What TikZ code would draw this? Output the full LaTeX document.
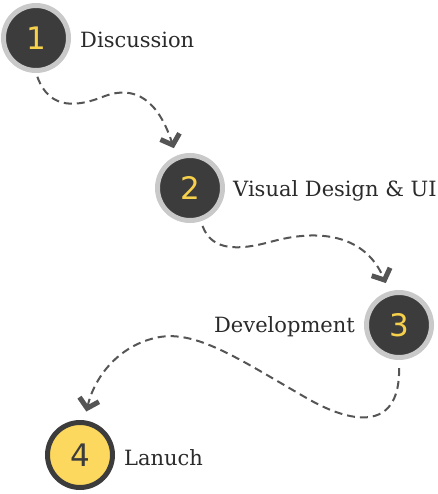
\documentclass[tikz,border=0pt]{standalone}
\usepackage{fontspec}
\setmainfont{DejaVu Serif}
\newfontfamily\numfont{DejaVu Sans}
\usetikzlibrary{arrows.meta}

\definecolor{ringgray}{HTML}{C9C9C9}
\definecolor{darkdot}{HTML}{3C3C3C}
\definecolor{numyellow}{HTML}{F7D14C}
\definecolor{lastfill}{HTML}{FCD95E}
\definecolor{dashgray}{HTML}{555555}
\definecolor{labelgray}{HTML}{2A2A2A}

\tikzset{
  stepdot/.style={circle,draw=ringgray,fill=darkdot,line width=5pt,minimum size=65pt,inner sep=0pt,
    text=numyellow,font=\numfont\fontsize{31}{31}\selectfont},
  lastdot/.style={stepdot,draw=darkdot,fill=lastfill,text=darkdot},
  steplabel/.style={text=labelgray,inner sep=0pt,font=\fontsize{21}{24}\selectfont},
  flow/.style={dashgray,line width=2pt,dash pattern=on 8pt off 5pt,
    -{Straight Barb[length=9pt,width=20pt,line width=5pt]}}
}

\begin{document}
\begin{tikzpicture}[x=1pt,y=-1pt]
    \useasboundingbox (0,0) rectangle (437,494);
    \node[stepdot] at (36,38) (s1) {1};
    \node[stepdot] at (190,188) (s2) {2};
    \node[stepdot] at (399,325) (s3) {3};
    \node[lastdot] at (80,455) (s4) {4};
    \node[steplabel,anchor=base west] at (80,48) (l1) {Discussion};
    \node[steplabel,anchor=base west] at (233,196) (l2) {Visual Design \& UI};
    \node[steplabel,anchor=base east] at (355,332) (l3) {Development};
    \node[steplabel,anchor=base west] at (124,465) (l4) {Lanuch};
    % dashed connectors between the steps
    \draw[flow,shorten <=4pt,shorten >=8pt] (s1.south) .. controls (50,112) and (80,106) .. (105,96)
        .. controls (135,85) and (158,100) .. (s2.113);
    \draw[flow,shorten <=5pt,shorten >=9pt] (s2.-72) .. controls (212,252) and (240,250) .. (270,242)
        .. controls (320,228) and (365,235) .. (s3.106);
    \draw[flow,shorten <=8pt,shorten >=9pt] (s3.south) .. controls (400,430) and (355,425) .. (310,400)
        .. controls (240,360) and (195,328) .. (155,338) .. controls (120,346) and (95,375) .. (s4.83);
\end{tikzpicture}
\end{document}
